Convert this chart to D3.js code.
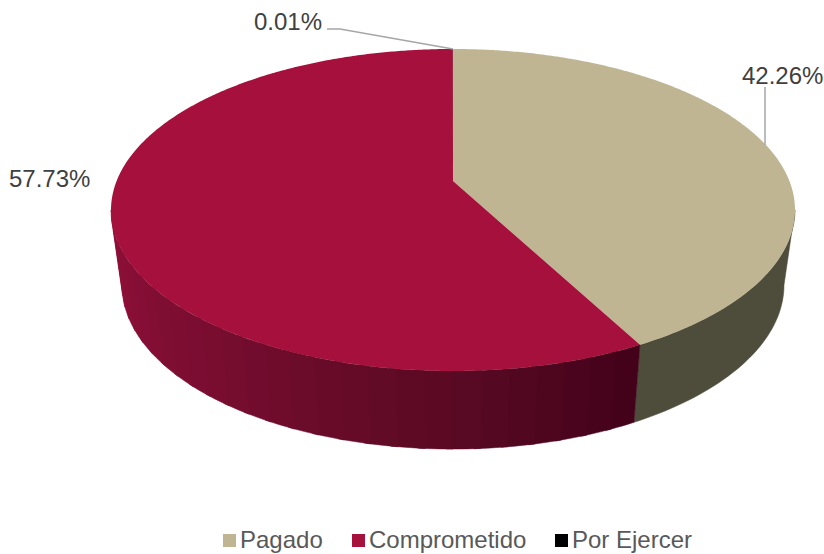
<!DOCTYPE html>
<html>
<head>
<meta charset="utf-8">
<script src="https://cdnjs.cloudflare.com/ajax/libs/d3/7.8.5/d3.min.js"></script>
<style>
    html, body { margin: 0; padding: 0; background: #fff; }
    svg { display: block; font-family: "Liberation Sans", Arial, sans-serif; }
</style>
</head>
<body>
<svg width="824" height="554"></svg>
<script>
"use strict";
var categories = ["Pagado", "Comprometido", "Por Ejercer"];
var values = [42.26, 57.73, 0.01];
var topColors = ["#bfb592", "#a6103c", "#000000"];

var svg = d3.select("svg");
var toRad = Math.PI / 180;

// circle seen in perspective: front of the disc is closer, so the centre sits above the ellipse middle
var persp = -0.18;
var topRim = { cx: 453, k: 336.4, a: 123.2, b: 181 };
var bottomRim = { cx: 453, k: 325.6, a: 112.7, b: 255.5 };

function project(rim, angle) {
    var u = Math.sin(angle), v = -Math.cos(angle), w = 1 + persp * v;
    return [rim.cx + rim.k * u / w, (rim.a * v + rim.b) / w];
}

// side wall shading by position on the rim, degrees clockwise from the top
var wallShade = d3.scaleLinear()
    .domain([152, 180, 215, 260])
    .range(["#43021a", "#5c0a24", "#770d30", "#93103a"])
    .clamp(true);

var arcs = d3.pie().sort(null)(values);
var line = d3.line();

// the wall is only seen between the two silhouette angles of the perspective ellipse
var wallFrom = Math.acos(persp) / toRad, wallTo = 360 - wallFrom, bandStep = 4;

function rimPoints(rim, from, to) {
    var degs = d3.range(from, to, 1).concat([to]);
    return degs.map(function (deg) { return project(rim, deg * toRad); });
}

function addWall(from, to, color) {
    var pts = rimPoints(topRim, from, to).concat(rimPoints(bottomRim, from, to).reverse());
    walls.append("path")
        .attr("d", line(pts) + "Z")
        .attr("fill", color)
        .attr("stroke", color)
        .attr("stroke-width", 0.5);
}

var walls = svg.append("g").attr("class", "walls");
arcs.forEach(function (d) {
    var from = Math.max(d.startAngle / toRad, wallFrom);
    var to = Math.min(d.endAngle / toRad, wallTo);
    if (to <= from) return;
    if (d.index === 0) {
        addWall(from, to, "#4e4c3b");
    } else {
        var cuts = [from].concat(d3.range(Math.ceil(from / bandStep) * bandStep, to, bandStep)).concat([to]);
        d3.pairs(cuts).forEach(function (p) {
            // run each band a little under the next one so no seam shows
            addWall(p[0], Math.min(p[1] + 1, to), wallShade(p[0]));
        });
    }
});

var slices = svg.append("g").attr("class", "slices");
arcs.forEach(function (d) {
    var pts = [[topRim.cx, topRim.b]];
    d3.range(d.startAngle, d.endAngle, toRad / 2).forEach(function (a) {
        pts.push(project(topRim, a));
    });
    pts.push(project(topRim, d.endAngle));
    slices.append("path")
        .attr("d", line(pts) + "Z")
        .attr("fill", topColors[d.index]);
});

// leader lines
var leaders = [
    [[327, 29], [340, 29], [453, 49]],
    [[765, 87], [765, 145]]
];
svg.append("g").selectAll("path")
    .data(leaders)
    .enter().append("path")
    .attr("d", function (d) { return line(d); })
    .attr("fill", "none")
    .attr("stroke", "#a6a6a6")
    .attr("stroke-width", 1.5);

// data labels
var fmt = d3.format(".2f");
var labelPos = [[742, 84], [9, 187], [254, 30]];
svg.append("g").selectAll("text")
    .data(values)
    .enter().append("text")
    .attr("x", function (d, i) { return labelPos[i][0]; })
    .attr("y", function (d, i) { return labelPos[i][1]; })
    .attr("font-size", 24)
    .attr("fill", "#404040")
    .text(function (d) { return fmt(d) + "%"; });

// legend
var legendX = [223, 352, 555];
var legend = svg.append("g").selectAll("g")
    .data(categories)
    .enter().append("g")
    .attr("transform", function (d, i) { return "translate(" + legendX[i] + ",534)"; });
legend.append("rect")
    .attr("width", 13)
    .attr("height", 13)
    .attr("fill", function (d, i) { return topColors[i]; });
legend.append("text")
    .attr("x", 17)
    .attr("y", 14)
    .attr("font-size", 24)
    .attr("fill", "#595959")
    .text(function (d) { return d; });
</script>
</body>
</html>
